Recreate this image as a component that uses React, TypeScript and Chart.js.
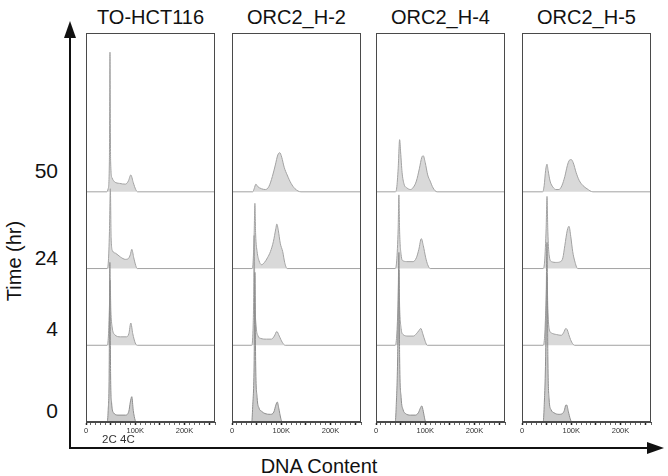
import React, { useEffect, useRef } from 'react';
import { Chart, registerables } from 'chart.js';

Chart.register(...registerables);

// ---------- labels ----------
const panelTitles = ['TO-HCT116', 'ORC2_H-2', 'ORC2_H-4', 'ORC2_H-5'];
const timeLabels = ['0', '4', '24', '50']; // bottom row first
const xTickLabels: Record<number, string> = { 0: '0', 100: '100K', 200: '200K' };
const xMaxK = 262; // DNA content axis max, in K
const rowSpacing = 100; // count units between stacked baselines
const yMax = 507;

// ---------- histograms: [DNA content (K), cell count] ----------
// TO-HCT116
const hct116_0h = [[0, 0], [43, 0], [45, 15], [47, 60], [48.5, 208], [50, 60], [52, 25], [56, 12], [65, 9], [80, 9], [87, 14], [90, 26], [93, 33], [96, 15], [100, 2], [102, 0], [262, 0]];
const hct116_4h = [[0, 0], [43, 0], [45.5, 12], [47.5, 48], [49, 85], [50.5, 45], [53, 24], [58, 14], [70, 11], [82, 11], [87, 15], [91, 29], [95, 15], [100, 3], [104, 0], [262, 0]];
const hct116_24h = [[0, 0], [43, 0], [45.5, 10], [47.5, 45], [49.5, 104], [51, 40], [54, 23], [60, 20], [70, 15], [80, 12], [86, 13], [90, 18], [93, 25], [97, 14], [101, 4], [104, 0], [262, 0]];
const hct116_50h = [[0, 0], [42, 0], [45, 4], [47.5, 40], [48.7, 182], [50, 40], [53, 18], [58, 13], [68, 11], [80, 10], [86, 14], [91, 22], [96, 12], [101, 3], [105, 0], [262, 0]];

// ORC2_H-2
const h2_0h = [[0, 0], [40, 0], [42, 20], [45, 80], [46.5, 195], [48, 80], [51, 32], [55, 18], [60, 14], [67, 11], [78, 10], [85, 13], [89, 22], [92, 26], [95, 18], [99, 5], [102, 0], [262, 0]];
const h2_4h = [[0, 0], [40, 0], [42, 10], [44, 62], [45, 143], [46.5, 62], [49, 25], [53, 12], [58, 9], [70, 8], [80, 8], [86, 12], [91, 18], [96, 12], [102, 4], [108, 0], [262, 0]];
const h2_24h = [[0, 0], [41, 0], [43, 10], [45, 45], [46.5, 85], [48, 45], [51, 22], [55, 10], [60, 5], [66, 8], [72, 14], [78, 22], [84, 35], [89, 52], [91, 58], [94, 50], [98, 33], [103, 22], [107, 8], [112, 0], [262, 0]];
const h2_50h = [[0, 0], [42, 0], [45, 4], [48.5, 10], [52, 7], [60, 4], [68, 3], [75, 7], [82, 20], [88, 35], [93, 48], [97, 51], [101, 45], [106, 32], [112, 22], [120, 11], [128, 4], [140, 0], [262, 0]];

// ORC2_H-4
const h4_0h = [[0, 0], [39, 0], [41, 20], [44, 85], [46.5, 221], [48, 85], [51, 32], [55, 16], [60, 11], [70, 9], [80, 9], [86, 12], [90, 18], [93, 21], [96, 14], [99, 4], [101, 0], [262, 0]];
const h4_4h = [[0, 0], [39, 0], [42, 12], [45, 58], [46.5, 98], [48, 50], [51, 22], [55, 14], [65, 12], [76, 12], [82, 15], [87, 19], [91, 22], [95, 15], [100, 5], [104, 0], [262, 0]];
const h4_24h = [[0, 0], [39, 0], [42, 10], [45, 52], [46.5, 96], [48, 48], [51, 18], [55, 10], [65, 9], [75, 9], [82, 14], [87, 25], [92, 39], [96, 30], [101, 14], [105, 5], [110, 0], [262, 0]];
const h4_50h = [[0, 0], [39, 0], [42, 5], [45, 30], [48, 68], [50, 52], [53, 25], [57, 10], [63, 5], [70, 3], [76, 6], [82, 14], [88, 30], [93, 45], [96, 47], [100, 38], [105, 22], [110, 14], [116, 5], [124, 0], [262, 0]];

// ORC2_H-5
const h5_0h = [[0, 0], [43, 0], [45, 20], [48, 85], [50.8, 234], [52.5, 85], [55, 30], [59, 16], [65, 12], [75, 10], [82, 11], [86, 15], [89, 22], [91, 22], [94, 14], [98, 4], [101, 0], [262, 0]];
const h5_4h = [[0, 0], [43, 0], [46, 12], [49, 58], [50.8, 91], [52.5, 48], [55, 22], [60, 16], [70, 14], [80, 13], [85, 17], [89, 22], [92, 20], [96, 12], [101, 4], [107, 0], [262, 0]];
const h5_24h = [[0, 0], [43, 0], [46, 10], [49, 52], [50.8, 94], [52.5, 48], [55, 18], [60, 9], [70, 8], [78, 9], [83, 14], [87, 30], [92, 50], [95.5, 55], [99, 42], [103, 22], [107, 10], [113, 0], [262, 0]];
const h5_50h = [[0, 0], [42, 0], [45, 8], [48, 28], [50.8, 36], [53, 28], [57, 14], [63, 6], [69, 3], [75, 3], [81, 8], [87, 20], [92, 34], [96, 41], [100, 42], [104, 38], [110, 25], [116, 15], [124, 8], [132, 4], [144, 0], [262, 0]];

const panelData = [
  [hct116_0h, hct116_4h, hct116_24h, hct116_50h],
  [h2_0h, h2_4h, h2_24h, h2_50h],
  [h4_0h, h4_4h, h4_24h, h4_50h],
  [h5_0h, h5_4h, h5_24h, h5_50h],
];

// ---------- layout ----------
const panelLefts = [86, 232, 376, 522];
const panelWidth = 129;
const panelTop = 33;
const panelHeight = 389;
const padL = 6, padR = 6, padT = 4, axisH = 20;
const FONT = '"Liberation Sans", Arial, Helvetica, sans-serif';

const boxPlugin = {
  id: 'panelBox',
  afterDraw(chart: any) {
    const { ctx, chartArea: a } = chart;
    ctx.save();
    ctx.strokeStyle = '#4a4a4a';
    ctx.lineWidth = 1;
    ctx.strokeRect(Math.round(a.left) + 0.5, Math.round(a.top) + 0.5, Math.round(a.right - a.left) - 1, Math.round(a.bottom - a.top) - 1);
    ctx.restore();
  },
};

function Panel({ hists, left }: { hists: number[][][]; left: number }) {
  const ref = useRef<HTMLCanvasElement | null>(null);
  useEffect(() => {
    if (!ref.current) return;
    const chart = new Chart(ref.current, {
      type: 'line',
      data: {
        datasets: hists.map((h, i) => ({
          data: h.map(([x, c]) => ({ x, y: i * rowSpacing + c })),
          borderColor: i === 0 ? '#8e8e8e' : '#a2a2a2',
          backgroundColor: i === 0 ? 'rgba(140,140,140,0.45)' : 'rgba(165,165,165,0.42)',
          borderWidth: 1,
          pointRadius: 0,
          cubicInterpolationMode: 'monotone' as const,
          fill: { value: i * rowSpacing },
        })),
      },
      options: {
        animation: false,
        responsive: false,
        maintainAspectRatio: false,
        layout: { padding: { left: padL, right: padR, top: padT, bottom: 0 } },
        plugins: { legend: { display: false }, tooltip: { enabled: false } },
        scales: {
          x: {
            type: 'linear',
            min: 0,
            max: xMaxK,
            afterFit: (s: any) => { s.height = axisH; },
            ticks: {
              stepSize: 10,
              autoSkip: false,
              maxRotation: 0,
              padding: 1,
              color: '#333',
              font: { size: 7.5, family: FONT },
              callback: (v: any) => xTickLabels[Math.round(Number(v))] ?? '',
            },
            grid: {
              drawOnChartArea: false,
              drawTicks: true,
              tickLength: 3,
              tickColor: (ctx: any) => (Math.round(ctx.tick?.value ?? 0) % 50 === 0 ? '#222' : '#666'),
              tickWidth: (ctx: any) => (Math.round(ctx.tick?.value ?? 0) % 50 === 0 ? 1.5 : 1),
            },
            border: { display: true, color: '#4a4a4a', width: 1 },
          },
          y: { display: false, min: 0, max: yMax },
        },
      },
      plugins: [boxPlugin],
    } as any);
    return () => chart.destroy();
  }, [hists]);
  return (
    <canvas
      ref={ref}
      width={panelWidth + padL + padR}
      height={panelHeight + padT + axisH}
      style={{ position: 'absolute', left: left - padL, top: panelTop - padT }}
    />
  );
}

const timeLabelY = [410, 328, 257, 170];

export default function App() {
  const text: React.CSSProperties = { position: 'absolute', fontFamily: FONT, color: '#111', whiteSpace: 'nowrap', lineHeight: 1 };
  return (
    <div style={{ position: 'absolute', left: 0, top: 0, width: 668, height: 476, background: '#fff', overflow: 'hidden' }}>
      {panelData.map((h, i) => (
        <Panel key={i} hists={h} left={panelLefts[i]} />
      ))}
      {panelTitles.map((t, i) => (
        <div key={t} style={{ ...text, fontSize: 20, left: panelLefts[i] + panelWidth / 2, top: 17, transform: 'translate(-50%, -50%)' }}>{t}</div>
      ))}
      {timeLabels.map((t, i) => (
        <div key={t} style={{ ...text, fontSize: 21, right: 668 - 58, top: timeLabelY[i], transform: 'translateY(-50%)' }}>{t}</div>
      ))}
      <div style={{ ...text, fontSize: 20, left: 14, top: 261, transform: 'translate(-50%, -50%) rotate(-90deg)' }}>Time (hr)</div>
      <div style={{ ...text, fontSize: 20, left: 319, top: 466, transform: 'translate(-50%, -50%)' }}>DNA Content</div>
      <div style={{ ...text, fontSize: 11.5, color: '#333', left: 102, top: 440, transform: 'translateY(-50%)' }}>2C</div>
      <div style={{ ...text, fontSize: 11.5, color: '#333', left: 120, top: 440, transform: 'translateY(-50%)' }}>4C</div>
      <svg width={668} height={476} style={{ position: 'absolute', left: 0, top: 0, pointerEvents: 'none' }}>
        <line x1={70} y1={448} x2={70} y2={32} stroke="#111" strokeWidth={2} />
        <polygon points="70,21 64,38 76,38" fill="#111" />
        <line x1={69} y1={448} x2={652} y2={448} stroke="#111" strokeWidth={2} />
        <polygon points="664,448 647,442 647,454" fill="#111" />
      </svg>
    </div>
  );
}
